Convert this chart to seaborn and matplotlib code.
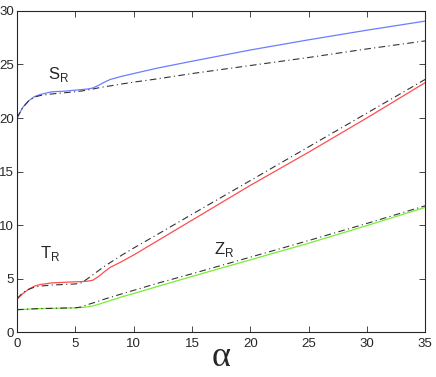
import matplotlib
matplotlib.use('Agg')
import matplotlib.pyplot as plt
import seaborn as sns
import pandas as pd

# alpha grid
alpha = [0, 0.5, 1, 1.5, 2, 3, 4, 5, 5.5, 6, 6.5, 7, 7.5, 8, 9, 10, 12, 15, 20, 25, 30, 35]

# solid curves
S_R = [20.0, 21.0, 21.6, 22.0, 22.2, 22.45, 22.5, 22.6, 22.65, 22.7, 22.8, 23.05, 23.35, 23.6, 23.9, 24.15, 24.65, 25.3, 26.35, 27.3, 28.2, 29.05]
T_R = [3.1, 3.6, 4.0, 4.3, 4.45, 4.6, 4.65, 4.7, 4.72, 4.75, 4.85, 5.2, 5.65, 6.05, 6.6, 7.2, 8.5, 10.45, 13.7, 16.8, 20.0, 23.3]
Z_R = [2.1, 2.12, 2.15, 2.18, 2.2, 2.22, 2.25, 2.27, 2.3, 2.35, 2.45, 2.6, 2.78, 2.95, 3.3, 3.6, 4.25, 5.2, 6.75, 8.3, 9.95, 11.65]

# dash-dot curves
S_R_dd = [20.0, 21.0, 21.6, 21.95, 22.1, 22.25, 22.35, 22.45, 22.52, 22.6, 22.7, 22.82, 22.92, 23.0, 23.18, 23.35, 23.65, 24.15, 24.9, 25.65, 26.45, 27.2]
T_R_dd = [3.1, 3.7, 4.0, 4.2, 4.3, 4.4, 4.45, 4.5, 4.6, 4.95, 5.35, 5.75, 6.15, 6.5, 7.2, 7.85, 9.1, 11.0, 14.15, 17.3, 20.45, 23.6]
Z_R_dd = [2.1, 2.12, 2.15, 2.18, 2.2, 2.22, 2.25, 2.27, 2.35, 2.55, 2.72, 2.9, 3.08, 3.25, 3.58, 3.9, 4.55, 5.45, 7.0, 8.55, 10.15, 11.8]

labels = ['S', 'T', 'Z']
label_pos = [(2.7, 23.6), (2.0, 6.9), (16.9, 7.3)]

xticks = [0, 5, 10, 15, 20, 25, 30, 35]
yticks = [0, 5, 10, 15, 20, 25, 30]

sns.set_style('ticks')
plt.rcParams['font.family'] = ['Liberation Sans', 'DejaVu Sans']
plt.rcParams['mathtext.fontset'] = 'custom'
plt.rcParams['mathtext.rm'] = 'Liberation Sans'

df = pd.DataFrame({'alpha': alpha})

fig = plt.figure(figsize=(4.36, 3.77), dpi=100)
ax = fig.add_axes([0.039, 0.119, 0.936, 0.852])

for col, vals, c in [('S', S_R, '#6b7dff'), ('T', T_R, '#ff4d4d'), ('Z', Z_R, '#77ee33')]:
    df[col] = vals
    sns.lineplot(data=df, x='alpha', y=col, color=c, lw=0.9, ax=ax)

for col, vals in [('Sd', S_R_dd), ('Td', T_R_dd), ('Zd', Z_R_dd)]:
    df[col] = vals
    sns.lineplot(data=df, x='alpha', y=col, color='#333333', lw=0.8, ax=ax,
                 linestyle=(0, (6, 3, 1, 3)))

for lab, (x, y) in zip(labels, label_pos):
    ax.text(x, y, lab + r'$_{\mathregular{R}}$', fontsize=12)

ax.set_xlim(0, 35)
ax.set_ylim(0, 30)
ax.set_xticks(xticks)
ax.set_yticks(yticks)
ax.tick_params(direction='in', top=True, right=True, length=4, width=0.6,
               labelsize=9.5, pad=2)
ax.tick_params(axis='x', pad=4)
for s in ax.spines.values():
    s.set_linewidth(0.8)
ax.set_ylabel('')
ax.set_xlabel('\u03b1', fontsize=26, family='Liberation Serif', labelpad=-6)

fig.savefig('out.png', dpi=100)
